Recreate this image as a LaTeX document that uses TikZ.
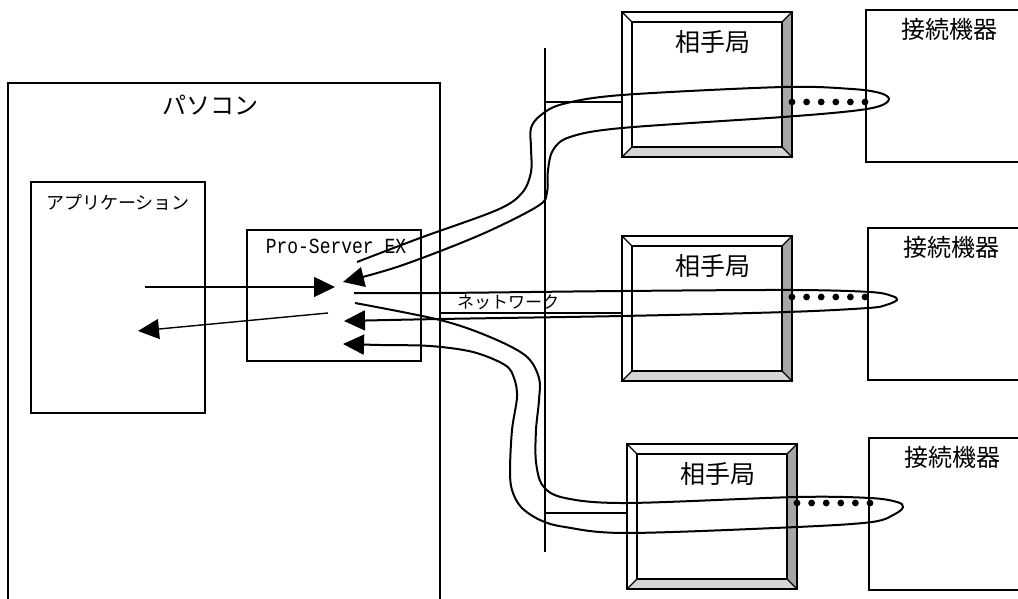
\documentclass[tikz,border=0pt]{standalone}
\usepackage{fontspec}
\newfontfamily\jpfont{Noto Sans CJK JP}
\newfontfamily\monofont{Liberation Mono}
\usetikzlibrary{arrows.meta}
\definecolor{bevdark}{gray}{0.65}
\definecolor{bevlight}{gray}{0.84}
\tikzset{
  frame/.style={line width=1.4pt},
  loopline/.style={line width=2pt, line join=round},
  bigtip/.style={-{Triangle[length=21pt,width=20pt]}},
  jplabel/.style={font=\jpfont\fontsize{#1}{#1}\selectfont, inner sep=0pt},
}
\begin{document}
\begin{tikzpicture}[x=1pt,y=-1pt]
  \useasboundingbox (0,0) rectangle (1018,599);
  % PC side
  \draw[frame] (8,599) -- (8,83) -- (440,83) -- (440,599);
  \node[jplabel=24pt] (pc) at (210,105) {パソコン};
  \draw[frame] (31,182) rectangle (205,413);
  \node[jplabel=18pt] (app) at (118,203) {アプリケーション};
  \draw[frame] (247,230) rectangle (421,361);
  \node[inner sep=0pt, font=\monofont\fontsize{18pt}{18pt}\selectfont] (srv) at (336,246)
    {\scalebox{1}[1.2]{Pro-Server EX}};

  % network
  \draw[frame] (545,48) -- (545,552);
  \draw[frame] (545,102) -- (622,102);
  \draw[frame] (440,313) -- (622,313);
  \draw[frame] (545,513) -- (627,513);
  \node[jplabel=17pt] (net) at (508,302) {ネットワーク};

  % remote stations
  \foreach \i/\x/\y in {1/622/12, 2/622/236, 3/627/444}{
    \fill[bevdark] (\x+170,\y) -- (\x+160,\y+10) -- (\x+160,\y+135) -- (\x+170,\y+145) -- cycle;
    \fill[bevlight] (\x,\y+145) -- (\x+10,\y+135) -- (\x+160,\y+135) -- (\x+170,\y+145) -- cycle;
    \draw[line width=2pt] (\x,\y) rectangle (\x+170,\y+145);
    \draw[frame] (\x+10,\y+10) rectangle (\x+160,\y+135);
    \draw[frame] (\x,\y) -- (\x+10,\y+10) (\x+170,\y) -- (\x+160,\y+10)
      (\x,\y+145) -- (\x+10,\y+135) (\x+170,\y+145) -- (\x+160,\y+135);
    \node[jplabel=25pt] (peer\i) at (\x+91,\y+30) {相手局};
  }

  % connected devices
  \foreach \i/\x/\y in {1/866/10, 2/868/228, 3/869/438}{
    \draw[frame] (1030,\y) -- (\x,\y) -- (\x,\y+152) -- (1030,\y+152);
    \node[jplabel=24pt] (dev\i) at (\x+83,\y+19) {接続機器};
  }

  % dots
  \foreach \x/\y in {792/102, 792/297, 797/503}
    \foreach \k in {0,...,5}
      \fill (\x+\k*14.6,\y) circle (3.4);

  % arrows app <-> server
  \coordinate (app-out) at (145,287);
  \coordinate (srv-in) at (335,287);
  \coordinate (srv-out) at (328,313);
  \coordinate (app-in) at (138,331);
  \draw[frame, bigtip] (app-out) -- (srv-in);
  \draw[frame, bigtip] (srv-out) -- (app-in);

  % loops
  \coordinate (ret1) at (343,282);
  \coordinate (ret2) at (344,321);
  \coordinate (ret3) at (343,344);
  \draw[loopline, bigtip] plot[smooth, tension=0.55] coordinates {
    (357,262) (420,238) (497,210) (522,193) (531,172) (531,148) (531,128)
    (541,115) (563,104) (622,95) (783,87) (852,89) (880,93) (889,99)
    (880,106) (852,111) (783,117) (622,128) (570,137) (553,150) (548,170)
    (547,192) (538,206) (480,235) (400,266) (ret1)};
  \draw[loopline, bigtip] plot[smooth, tension=0.55] coordinates {
    (354,293) (440,293) (622,291) (792,290) (870,292) (892,296) (897,300)
    (886,305) (868,308) (787,312) (622,316) (440,319) (ret2)};
  \draw[loopline, bigtip] plot[smooth, tension=0.55] coordinates {
    (355,303) (440,320) (490,337) (526,356) (539,378) (539,400) (536,430)
    (536,462) (543,486) (565,498) (627,503) (797,497) (870,498) (897,502)
    (903,507) (895,514) (872,522) (797,527) (627,533) (565,527) (540,520)
    (521,507) (512,490) (510,470) (512,430) (517,397) (514,378) (505,365)
    (473,352) (430,346) (380,345) (ret3)};
\end{tikzpicture}
\end{document}
